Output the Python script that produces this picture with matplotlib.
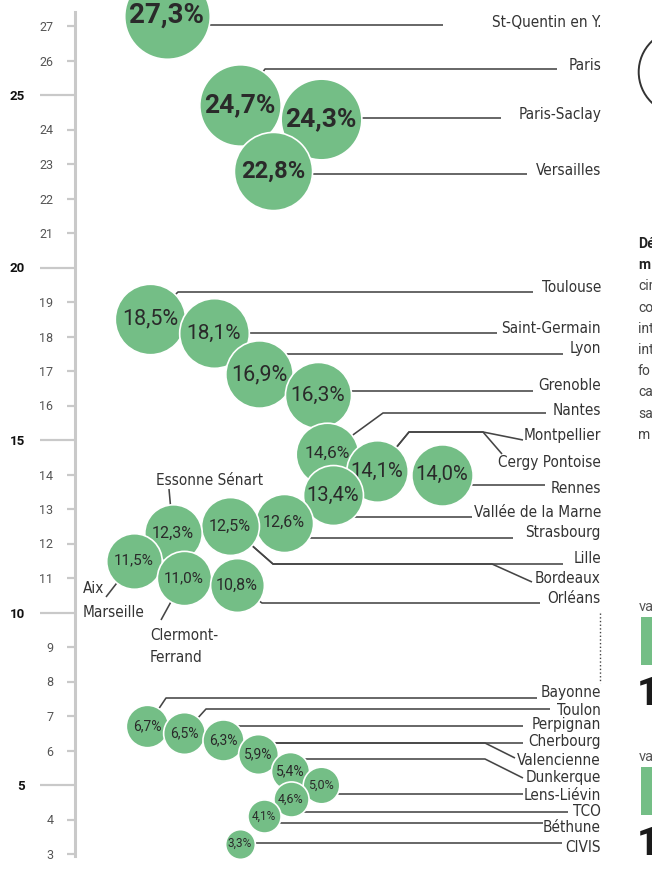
import matplotlib

matplotlib.use("Agg")
import matplotlib.pyplot as plt
from matplotlib import font_manager
from matplotlib.patches import Ellipse, Rectangle
from matplotlib.ticker import FixedLocator, FuncFormatter

# ---- data -----------------------------------------------------------------
site_names = [
    "St-Quentin en Y.", "Paris", "Paris-Saclay", "Versailles",
    "Toulouse", "Saint-Germain", "Lyon", "Grenoble", "Nantes",
    "Montpellier", "Cergy Pontoise", "Rennes", "Vallée de la Marne",
    "Strasbourg", "Lille", "Bordeaux", "Essonne Sénart", "Aix / Marseille",
    "Clermont-Ferrand", "Orléans",
    "Bayonne", "Toulon", "Perpignan", "Cherbourg", "Valencienne",
    "Dunkerque", "Lens-Liévin", "TCO", "Béthune", "CIVIS",
]
site_values = [
    27.3, 24.7, 24.3, 22.8,
    18.5, 18.1, 16.9, 16.3, 14.6,
    14.1, 14.1, 14.0, 13.4,
    12.6, 12.5, 12.5, 12.3, 11.5,
    11.0, 10.8,
    6.7, 6.5, 6.3, 5.9, 5.9,
    5.4, 5.0, 4.6, 4.1, 3.3,
]
major_ticks = [5, 10, 15, 20, 25]
minor_ticks = [3, 4, 6, 7, 8, 9, 11, 12, 13, 14, 16, 17, 18, 19, 21, 22, 23, 24, 26, 27]

# one bubble per distinct value (shared values share a bubble)
bubble_values = list(dict.fromkeys(site_values))

# ---- layout (pixels) ------------------------------------------------------
W, H = 652, 882
TOP_PX, PX_UNIT = 26, 34.5

bubble_x = [167, 240, 321, 273, 150, 214, 259, 318, 327, 377, 442, 333, 284, 230,
            173, 134, 184, 237, 147, 184, 223, 258, 290, 321, 291, 264, 240]
bubble_fs = [20, 19, 19, 17, 15.5, 15, 15.5, 15, 12.5, 14.5, 14.5, 14.5, 11.5, 11.5,
             11.5, 11, 11, 11.5, 10, 10, 10, 10, 10, 9, 9, 8.5, 8.5]

# right hand labels: baseline, leader path ("c" = bubble centre, (None, y) = bubble x)
right_labels = {
    "St-Quentin en Y.": (27, [(None, 25), (443, 25)]),
    "Paris": (70, ["c", (265, 69), (557, 69)]),
    "Paris-Saclay": (119, [(None, 118), (501, 118)]),
    "Versailles": (175, [(None, 174), (527, 174)]),
    "Toulouse": (292, ["c", (178, 292), (533, 292)]),
    "Saint-Germain": (333, [(None, 333), (497, 333)]),
    "Lyon": (353, ["c", (287, 354), (563, 354)]),
    "Grenoble": (390, [(None, 391), (533, 391)]),
    "Nantes": (415, ["c", (383, 413), (546, 413)]),
    "Montpellier": (440, ["c", (409, 432), (483, 432), (523, 440)]),
    "Cergy Pontoise": (467, ["c", (409, 432), (483, 432), (502, 454)]),
    "Rennes": (493, [(None, 485), (545, 485)]),
    "Vallée de la Marne": (517, ["c", (350, 517), (472, 517)]),
    "Strasbourg": (537, [(None, 538), (513, 538)]),
    "Lille": (563, ["c", (273, 564), (563, 564)]),
    "Bordeaux": (583, ["c", (273, 564), (492, 564), (532, 582)]),
    "Orléans": (603, ["c", (262, 603), (540, 603)]),
    "Bayonne": (697, ["c", (166, 698), (537, 698)]),
    "Toulon": (715, ["c", (206, 709), (550, 709)]),
    "Perpignan": (729, [(None, 726), (523, 726)]),
    "Cherbourg": (746, [(None, 743), (523, 743)]),
    "Valencienne": (765, [(None, 743), (485, 743), (515, 758)]),
    "Dunkerque": (782, [(None, 759), (485, 759), (523, 778)]),
    "Lens-Liévin": (800, [(None, 794), (523, 794)]),
    "TCO": (816, [(None, 812), (568, 812)]),
    "Béthune": (832, [(None, 823), (543, 823)]),
    "CIVIS": (852, [(None, 843), (562, 843)]),
}
# left hand labels: lines of text, x, baselines, ha, leader path
left_labels = {
    "Essonne Sénart": (["Essonne Sénart"], 210, [485], "center", ["c", (169, 489)]),
    "Aix / Marseille": (["Aix", "Marseille"], 83, [593, 617], "left", ["c", (106, 597)]),
    "Clermont-Ferrand": (["Clermont-", "Ferrand"], 150, [640, 662], "left", ["c", (161, 620)]),
}

GREEN = "#74BE86"
LINE = "#454545"
TEXT = "#2a2a2a"


def py(pix):
    """Pixel row (from top) -> value axis."""
    return 27 - (pix - TOP_PX) / PX_UNIT


names = {f.name for f in font_manager.fontManager.ttflist}
if "Liberation Sans Narrow" in names:
    COND = dict(fontfamily="Liberation Sans Narrow", fontsize=13.5)
else:
    COND = dict(fontfamily="DejaVu Sans", fontstretch="condensed", fontsize=11)

plt.rcParams["font.family"] = ["Roboto", "DejaVu Sans"]

fig = plt.figure(figsize=(W / 100, H / 100), dpi=100)
ax = fig.add_axes([0, 0, 1, 1])
ax.set_xlim(0, W)
ax.set_ylim(py(H), py(0))
ax.patch.set_alpha(0)

# value axis drawn by matplotlib
for side in ["top", "right", "bottom"]:
    ax.spines[side].set_visible(False)
ax.xaxis.set_visible(False)
ax.spines["left"].set_position(("data", 75))
ax.spines["left"].set_bounds(py(856), py(12))
ax.spines["left"].set_color("#c9c9c9")
ax.spines["left"].set_linewidth(2.2)
ax.yaxis.set_major_locator(FixedLocator(major_ticks))
ax.yaxis.set_minor_locator(FixedLocator(minor_ticks))
ax.yaxis.set_minor_formatter(FuncFormatter(lambda v, _: f"{v:.0f}"))
ax.tick_params(axis="y", which="major", length=25, width=1.6, color="#c9c9c9",
               pad=11, labelsize=9.5, labelcolor="#111111")
ax.tick_params(axis="y", which="minor", length=6, width=1.6, color="#c9c9c9",
               pad=9.5, labelsize=9, labelcolor="#555555")
for t in ax.get_yticklabels():
    t.set_fontweight("bold")

bubble_of = {v: i for i, v in enumerate(bubble_values)}


def to_data(path, i):
    cx, cy = bubble_x[i], bubble_values[i]
    pts = []
    for p in path:
        if p == "c":
            pts.append((cx, cy))
        elif p[0] is None:
            pts.append((cx, py(p[1])))
        else:
            pts.append((p[0], py(p[1])))
    return zip(*pts)


# leader lines + labels
for name, value in zip(site_names, site_values):
    i = bubble_of[value]
    if name in right_labels:
        base, path = right_labels[name]
        ax.text(601, py(base), name, ha="right", va="baseline", color="#333333", **COND)
    else:
        lines, x, bases, ha, path = left_labels[name]
        for line, b in zip(lines, bases):
            ax.text(x, py(b), line, ha=ha, va="baseline", color="#333333", **COND)
    xs, ys = to_data(path, i)
    ax.plot(xs, ys, color=LINE, lw=1.15, zorder=1, solid_capstyle="butt")

ax.plot([600, 600], [py(613), py(683)], color=LINE, lw=1.0, ls=":", zorder=1)

# bubbles: area proportional to value
for i, v in enumerate(bubble_values):
    z = 3 + 2 * i
    ax.scatter([bubble_x[i]], [v], s=139 * v, color=GREEN, edgecolors="white",
               linewidths=1.2, zorder=z)
    ax.text(bubble_x[i], v, f"{v:.1f}%".replace(".", ","), ha="center", va="center",
            fontsize=bubble_fs[i], fontweight="bold" if v > 20 else "normal",
            color=TEXT, zorder=z + 1)

# cropped side panel on the right
ax.add_patch(Ellipse((681, py(72)), 84.6, 84.6 / PX_UNIT, fill=False, ec="#333333", lw=1.4))
side_lines = ["Dé", "m", "cir", "co", "int", "int", "fo", "ca", "sa", "m"]
for k, s in enumerate(side_lines):
    ax.text(638, py(248 + 21.2 * k), s, ha="left", va="baseline", fontsize=10,
            fontweight="bold" if k < 2 else "normal",
            color="#222222" if k < 2 else "#444444")
for top in (617, 767):
    ax.text(639, py(top - 6), "va", ha="left", va="baseline", fontsize=10.5, color="#555555")
    ax.add_patch(Rectangle((641, py(top + 48)), 20, 48 / PX_UNIT, color=GREEN, lw=0))
    ax.text(637, py(top + 88), "1", ha="left", va="baseline", fontsize=28,
            fontweight="bold", color="#1a1a1a")

fig.savefig("out.png", dpi=100)
